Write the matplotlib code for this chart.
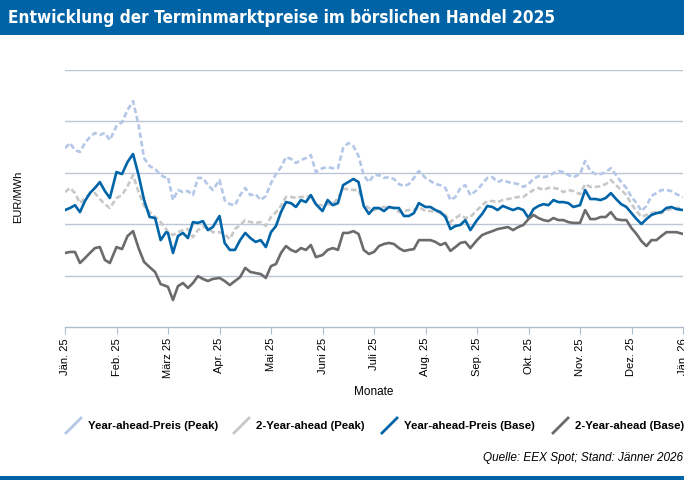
import calendar
import matplotlib
matplotlib.use("Agg")
import matplotlib.pyplot as plt
from matplotlib.lines import Line2D
from matplotlib.patches import Rectangle

plt.rcParams['font.family'] = ['Liberation Sans', 'DejaVu Sans']

title = "Entwicklung der Terminmarktpreise im börslichen Handel 2025"
month_labels = ["Jän. 25", "Feb. 25", "März 25", "Apr. 25", "Mai 25", "Juni 25", "Juli 25",
                "Aug. 25", "Sep. 25", "Okt. 25", "Nov. 25", "Dez. 25", "Jän. 26"]
sample_days = [1, 4, 7, 10, 13, 16, 19, 22, 25, 28]
dates = [(2025, m, d) for m in range(1, 13) for d in sample_days] + [(2026, 1, 1)]

# EUR/MWh (10 samples per month + 1.1.2026)
ya_peak = [109.6, 111.6, 108.8, 108.1, 111.6, 113.9, 115.5, 114.7, 115.5, 112.7,
           118.2, 119.7, 124.4, 127.9, 118.6, 105.7, 102.6, 101.5, 99.1, 98.0,
           98.3, 89.4, 93.3, 92.5, 92.9, 91.3, 98.0, 98.0, 95.2, 93.3,
           97.2, 89.4, 87.8, 87.4, 91.3, 94.1, 91.3, 91.7, 89.4, 91.0,
           96.0, 99.5, 102.2, 106.1, 105.4, 103.8, 105.0, 105.7, 106.9, 100.3,
           101.8, 102.2, 101.8, 101.8, 109.6, 111.6, 110.4, 106.5, 99.1, 96.4,
           99.1, 99.1, 98.0, 98.3, 97.6, 95.6, 94.8, 95.6, 98.0, 100.7,
           98.0, 96.8, 95.6, 95.2, 94.1, 89.4, 90.6, 94.1, 95.2, 91.3,
           93.3, 95.6, 98.0, 98.3, 96.4, 97.2, 96.4, 96.0, 95.6, 94.5,
           95.6, 97.6, 98.7, 98.3, 98.7, 99.9, 100.7, 100.3, 99.1, 98.3,
           99.5, 104.6, 100.7, 99.5, 99.5, 100.3, 101.8, 99.1, 96.4, 94.1,
           90.6, 88.2, 85.1, 87.1, 91.0, 92.1, 93.3, 93.3, 92.9, 91.7,
           90.6]
y2_peak = [92.5, 94.1, 92.1, 88.2, 90.2, 91.7, 92.1, 89.8, 87.8, 86.3,
           90.2, 91.3, 94.8, 99.1, 92.5, 87.1, 84.7, 82.8, 80.8, 78.1,
           76.9, 75.8, 76.9, 77.7, 78.1, 75.0, 77.7, 78.9, 78.5, 76.9,
           76.9, 76.2, 74.2, 78.1, 79.7, 81.6, 80.8, 80.5, 80.8, 79.3,
           82.8, 84.7, 87.1, 90.6, 90.6, 90.2, 90.6, 90.6, 91.3, 87.4,
           87.4, 87.8, 87.8, 90.2, 93.7, 93.7, 93.3, 93.3, 87.8, 86.3,
           85.5, 86.3, 86.7, 86.7, 86.3, 84.7, 85.1, 85.5, 85.5, 86.7,
           85.1, 85.1, 85.1, 84.3, 83.6, 80.8, 82.4, 83.6, 82.4, 82.8,
           85.5, 87.4, 89.0, 89.0, 88.6, 89.4, 89.8, 90.2, 90.6, 90.6,
           92.1, 93.3, 94.1, 93.3, 94.1, 94.1, 93.7, 92.5, 93.3, 92.9,
           91.7, 95.6, 94.5, 94.5, 94.8, 95.6, 97.2, 95.2, 93.3, 91.3,
           87.8, 85.1, 82.8, 83.6, 84.3, 84.7, 84.3, 85.5, 85.9, 86.3,
           86.3]
ya_base = [85.5, 86.3, 87.4, 84.7, 89.0, 92.1, 94.1, 96.4, 92.9, 90.2,
           100.3, 99.5, 104.2, 107.3, 99.1, 89.4, 82.8, 82.4, 73.8, 76.9,
           76.6, 68.8, 75.4, 76.6, 74.6, 80.8, 80.5, 81.2, 77.7, 78.9,
           83.2, 72.7, 70.0, 70.0, 73.8, 76.6, 74.6, 73.1, 73.8, 71.1,
           76.9, 79.3, 84.7, 88.6, 88.2, 86.7, 89.4, 88.6, 91.3, 87.8,
           85.1, 89.4, 87.4, 88.2, 95.2, 96.4, 97.6, 96.4, 87.1, 84.0,
           86.3, 86.3, 85.1, 86.7, 86.3, 86.3, 83.2, 83.2, 84.3, 88.2,
           86.7, 86.7, 85.5, 84.7, 82.8, 78.1, 79.3, 79.7, 81.6, 77.7,
           81.6, 84.0, 87.1, 86.7, 85.5, 87.1, 86.3, 85.5, 86.3, 85.5,
           82.4, 85.9, 87.1, 87.8, 87.4, 89.4, 88.6, 88.6, 88.2, 86.7,
           87.4, 93.3, 89.8, 89.8, 89.4, 90.2, 92.1, 89.8, 87.8, 86.7,
           84.3, 82.0, 80.1, 82.0, 83.6, 84.3, 84.7, 86.3, 86.7, 85.9,
           85.5]
y2_base = [68.8, 69.2, 69.2, 64.9, 66.8, 68.8, 70.7, 71.1, 66.1, 64.9,
           71.1, 70.3, 75.4, 77.3, 70.7, 65.3, 63.3, 61.4, 56.7, 55.9,
           55.6, 50.5, 55.9, 57.1, 55.2, 57.1, 59.8, 58.7, 57.9, 58.7,
           59.1, 57.9, 56.3, 57.9, 59.4, 63.0, 61.4, 61.0, 60.6, 59.1,
           63.7, 64.5, 68.8, 71.5, 70.0, 69.2, 70.7, 70.0, 71.9, 67.2,
           68.0, 70.0, 70.7, 70.0, 76.6, 76.6, 77.3, 76.2, 70.0, 68.4,
           69.2, 71.5, 72.3, 72.7, 72.3, 70.7, 69.6, 70.0, 70.3, 73.8,
           73.8, 73.8, 73.1, 71.9, 72.7, 69.6, 71.1, 72.7, 73.1, 70.7,
           73.8, 75.8, 76.6, 77.3, 78.1, 78.5, 78.9, 77.7, 78.9, 79.7,
           82.0, 83.6, 82.4, 81.6, 81.2, 82.4, 81.6, 81.6, 80.8, 80.5,
           80.5, 85.5, 82.0, 82.0, 82.8, 82.8, 84.7, 82.0, 81.6, 81.6,
           78.5, 76.2, 73.4, 71.5, 73.8, 73.8, 75.4, 76.9, 76.9, 76.9,
           76.2]

series = [
    ("Year-ahead-Preis (Peak)", ya_peak, "#B4C7E7", True),
    ("2-Year-ahead (Peak)", y2_peak, "#C8C8C8", True),
    ("Year-ahead-Preis (Base)", ya_base, "#0064A8", False),
    ("2-Year-ahead (Base)", y2_base, "#6B6B6B", False),
]

# months are equally wide on the axis
xpos = [(y - 2025) * 12 + (m - 1) + (d - 1) / calendar.monthrange(y, m)[1] for y, m, d in dates]

W, H = 684, 480
fig = plt.figure(figsize=(W / 100, H / 100), dpi=100)
ax = fig.add_axes([65 / W, 1 - 327 / H, (683 - 65) / W, (327 - 70) / H])

for name, vals, col, dashed in series:
    if dashed:
        ax.plot(xpos, vals, color=col, lw=1.9, dashes=(2.1, 1.1), solid_capstyle='butt')
    else:
        ax.plot(xpos, vals, color=col, lw=1.9)

ax.set_xlim(0, 12)
ax.set_ylim(40, 140)
ax.set_yticks([60, 80, 100, 120, 140])
ax.set_yticklabels([])
ax.tick_params(axis='y', length=0)
ax.grid(axis='y', color='#BCC6D6', lw=1.0)
ax.set_axisbelow(True)
ax.set_xticks(range(13))
ax.set_xticklabels(month_labels, rotation=90, fontsize=8)
ax.tick_params(axis='x', direction='out', length=5, color='#B0BCD0', pad=3)
for s in ['top', 'right', 'left']:
    ax.spines[s].set_visible(False)
ax.spines['bottom'].set_color('#B0BCD0')
ax.spines['bottom'].set_linewidth(1.0)

# title bar
fig.add_artist(Rectangle((0, 1 - 35 / H), 1, 35 / H, transform=fig.transFigure,
                         facecolor='#0063A6', edgecolor='none'))
fig.text(8 / W, 1 - 18 / H, title, color='white', fontsize=12.3, weight='bold', va='center',
         family='DejaVu Sans', stretch='condensed')

fig.text(18 / W, 1 - 197 / H, "EUR/MWh", rotation=90, fontsize=8, va='center', ha='center')
fig.text(374 / W, 1 - 392 / H, "Monate", fontsize=8.5, ha='center', va='center')

# legend with diagonal handles
leg_x = [66, 234, 382, 553]
for (name, vals, col, dashed), lx in zip(series, leg_x):
    fig.add_artist(Line2D([lx / W, (lx + 15) / W], [1 - 433 / H, 1 - 418 / H],
                          transform=fig.transFigure, color=col, lw=2.0))
    fig.text((lx + 22) / W, 1 - 426 / H, name, fontsize=8.2, weight='bold', va='center')

fig.text(683 / W, 1 - 458 / H, "Quelle: EEX Spot; Stand: Jänner 2026", fontsize=8.5,
         style='italic', ha='right', va='center')

fig.add_artist(Rectangle((0, 0), 1, 4 / H, transform=fig.transFigure,
                         facecolor='#0063A6', edgecolor='none'))

fig.savefig("out.png", dpi=100)
